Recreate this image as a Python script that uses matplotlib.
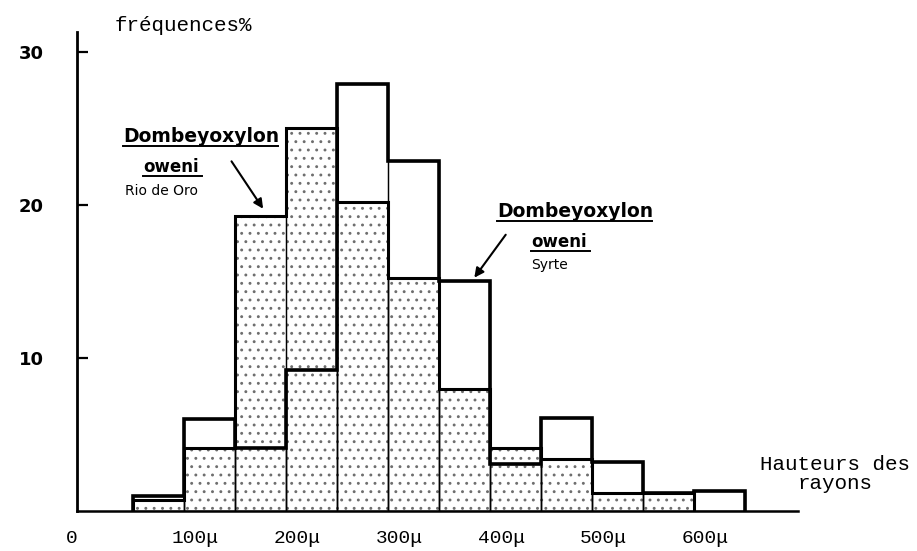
import matplotlib
matplotlib.use("Agg")
import matplotlib.pyplot as plt
import matplotlib.transforms as mtransforms
import numpy as np

plt.rcParams["hatch.linewidth"] = 0.9

# bin edges (microns) and frequencies (%)
edges = [50, 100, 150, 200, 250, 300, 350, 400, 450, 500, 550, 600, 650]
rio_de_oro = [0.7, 4.1, 19.3, 25.0, 20.2, 15.2, 8.0, 4.1, 3.4, 1.2, 1.2, 0.0]
syrte = [1.0, 6.0, 4.1, 9.2, 27.9, 22.9, 15.0, 3.1, 6.1, 3.2, 1.2, 1.3]

x_ticks = [0, 100, 200, 300, 400, 500, 600]
x_labels = ["0", "100μ", "200μ", "300μ", "400μ", "500μ", "600μ"]
y_ticks = [10, 20, 30]

W, H = 917, 551
fig = plt.figure(figsize=(W / 100, H / 100), dpi=100)
ax = fig.add_axes([77 / W, (H - 511) / H, (798 - 77) / W, (511 - 32) / H])
ax.set_xlim(-5, 702)
ax.set_ylim(0, 31.3)

lefts = np.array(edges[:-1])
width = np.diff(edges)

# stippled histogram (Rio de Oro)
ax.bar(lefts, rio_de_oro, width=width, align="edge", facecolor="white",
       edgecolor="#6e6e6e", hatch="..", linewidth=0, zorder=1)
ax.bar(lefts, rio_de_oro, width=width, align="edge", facecolor="none",
       edgecolor="black", linewidth=0.9, zorder=2)
# open histogram (Syrte)
ax.bar(lefts, syrte, width=width, align="edge", facecolor="none",
       edgecolor="black", linewidth=0.9, zorder=2)

# heavy outlines
ax.stairs(rio_de_oro[:-1], edges[:-1], baseline=0, color="black", linewidth=2.2, zorder=3)
ax.stairs(syrte, edges, baseline=0, color="black", linewidth=2.6, zorder=4)

for s in ["top", "right"]:
    ax.spines[s].set_visible(False)
ax.spines["left"].set_linewidth(2.0)
ax.spines["bottom"].set_linewidth(1.8)

ax.set_yticks(y_ticks)
ax.set_yticklabels([str(v) for v in y_ticks], fontsize=13, fontweight="bold",
                   family="DejaVu Sans")
ax.tick_params(axis="y", direction="in", length=8, width=1.6, pad=24)

ax.set_xticks(x_ticks)
ax.set_xticklabels(x_labels, fontsize=14, family="Liberation Mono")
ax.tick_params(axis="x", length=0, pad=14)
for i, lab in enumerate(ax.get_xticklabels()):
    dx = -10 if i == 0 else 11
    lab.set_transform(lab.get_transform() + mtransforms.ScaledTranslation(dx / 100, 0, fig.dpi_scale_trans))

# axis titles
ax.text(32, 31.7, "fréquences%", fontsize=15, family="Liberation Mono",
        ha="left", va="center", clip_on=False)
ax.text(738, 2.4, "Hauteurs des\nrayons", fontsize=15, family="Liberation Mono",
        ha="center", va="center", multialignment="center", linespacing=1.0, clip_on=False)

# Rio de Oro label
ax.text(40, 24.5, "Dombeyoxylon", fontsize=13.5, fontweight="bold", family="DejaVu Sans",
        ha="left", va="center")
ax.plot([40, 192], [23.85, 23.85], color="black", lw=1.4)
ax.text(60, 22.5, "oweni", fontsize=12, fontweight="bold", family="DejaVu Sans",
        ha="left", va="center")
ax.plot([60, 118], [21.9, 21.9], color="black", lw=1.4)
ax.text(42, 20.9, "Rio de Oro", fontsize=10, family="DejaVu Sans", ha="left", va="center")
ax.annotate("", xy=(179, 19.6), xytext=(145, 23.0),
            arrowprops=dict(arrowstyle="-|>", color="black", lw=1.5, mutation_scale=14))

# Syrte label
ax.text(407, 19.6, "Dombeyoxylon", fontsize=13.5, fontweight="bold", family="DejaVu Sans",
        ha="left", va="center")
ax.plot([407, 559], [18.95, 18.95], color="black", lw=1.4)
ax.text(440, 17.6, "oweni", fontsize=12, fontweight="bold", family="DejaVu Sans",
        ha="left", va="center")
ax.plot([440, 498], [17.0, 17.0], color="black", lw=1.4)
ax.text(440, 16.1, "Syrte", fontsize=10, family="DejaVu Sans", ha="left", va="center")
ax.annotate("", xy=(383, 15.1), xytext=(417, 18.2),
            arrowprops=dict(arrowstyle="-|>", color="black", lw=1.5, mutation_scale=14))

fig.savefig("out.png", dpi=100)
